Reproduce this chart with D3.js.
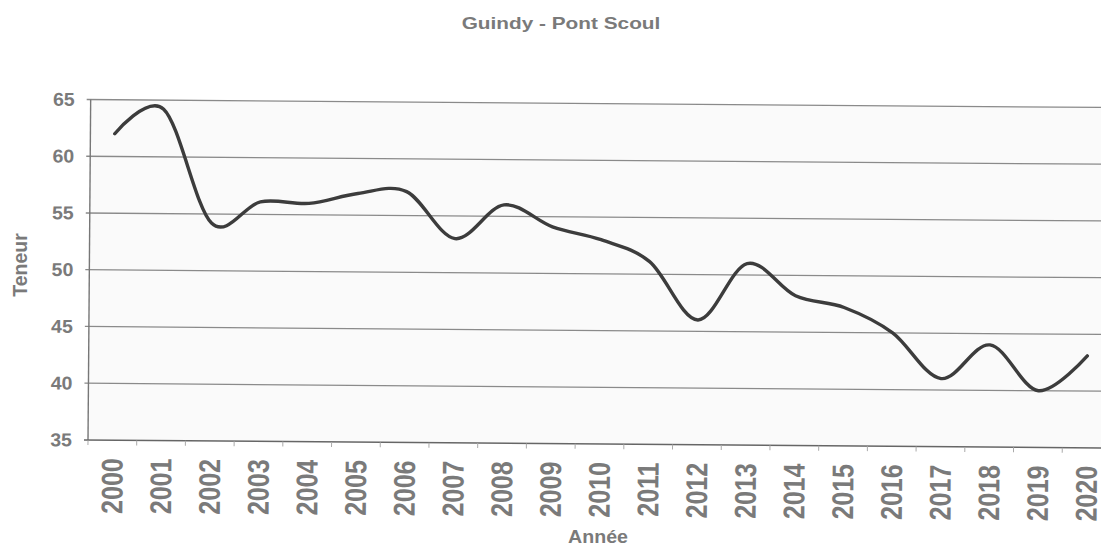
<!DOCTYPE html>
<html>
<head>
<meta charset="utf-8">
<script src="https://cdn.jsdelivr.net/npm/d3@7"></script>
<style>
  html, body { margin: 0; padding: 0; background: #ffffff; }
  svg { display: block; }
  text { font-family: "Liberation Sans", Arial, sans-serif; font-weight: bold; fill: #7a7a7a; }
</style>
</head>
<body>
<svg id="chart" width="1101" height="546"></svg>
<script>
const years = ["2000","2001","2002","2003","2004","2005","2006","2007","2008","2009","2010",
               "2011","2012","2013","2014","2015","2016","2017","2018","2019","2020"];
const teneur = [62.0, 64.2, 54.2, 56.1, 56.0, 56.9, 57.1, 53.0, 56.0, 54.1, 53.0,
                51.1, 46.0, 51.0, 48.2, 47.2, 45.0, 41.0, 44.0, 40.0, 43.1];
const yTicks = [35, 40, 45, 50, 55, 60, 65];
const chartTitle = "Guindy - Pont Scoul";
const xTitle = "Année";
const yTitle = "Teneur";

const svg = d3.select("#chart");

const pLeft = 88, pRight = 1111, pTop = 99.5, pBottom = 440;

const x = d3.scaleBand().domain(years).range([pLeft, pRight]).padding(0);
const y = d3.scaleLinear().domain([35, 65]).range([pBottom, pTop]);

// scanned page is slightly tilted
const g = svg.append("g").attr("transform", `rotate(0.45, ${pLeft}, ${pBottom})`);

g.append("rect")
  .attr("x", pLeft).attr("y", pTop)
  .attr("width", pRight - pLeft).attr("height", pBottom - pTop)
  .attr("fill", "#fafafa");

// gridlines
g.append("g")
  .selectAll("line")
  .data(yTicks.filter(d => d !== 35))
  .join("line")
  .attr("x1", pLeft - 4).attr("x2", pRight)
  .attr("y1", d => y(d)).attr("y2", d => y(d))
  .attr("stroke", "#8a8a8a").attr("stroke-width", 1.3);

// axes lines
g.append("line")
  .attr("x1", pLeft).attr("x2", pLeft)
  .attr("y1", pTop).attr("y2", pBottom + 1)
  .attr("stroke", "#777").attr("stroke-width", 1.4);
g.append("line")
  .attr("x1", pLeft - 4).attr("x2", pRight)
  .attr("y1", pBottom).attr("y2", pBottom)
  .attr("stroke", "#666").attr("stroke-width", 1.6);

// x ticks at category boundaries
const bounds = years.map(d => x(d)).concat([x(years[years.length - 1]) + x.bandwidth()]);
g.append("g")
  .selectAll("line")
  .data(bounds)
  .join("line")
  .attr("x1", d => d).attr("x2", d => d)
  .attr("y1", pBottom).attr("y2", pBottom + 5)
  .attr("stroke", "#aaa").attr("stroke-width", 1);

// y tick labels
g.append("g")
  .selectAll("text")
  .data(yTicks)
  .join("text")
  .attr("transform", d => `translate(72, ${y(d)}) scale(1.05, 1)`)
  .attr("dy", "0.35em")
  .attr("text-anchor", "end")
  .style("font-size", "18.6px")
  .text(d => d);

// x tick labels
g.append("g")
  .selectAll("text")
  .data(years)
  .join("text")
  .attr("transform", d => `translate(${x(d) + x.bandwidth() / 2}, 458) scale(1.2, 1) rotate(-90)`)
  .attr("dy", "0.35em")
  .attr("text-anchor", "end")
  .style("font-size", "25px")
  .text(d => d);

// data line
const line = d3.line()
  .x((d, i) => x(years[i]) + x.bandwidth() / 2)
  .y(d => y(d))
  .curve(d3.curveCardinal.tension(0));

g.append("path")
  .datum(teneur)
  .attr("d", line)
  .attr("fill", "none")
  .attr("stroke", "#3c3c3c")
  .attr("stroke-width", 3.4)
  .attr("stroke-linejoin", "round")
  .attr("stroke-linecap", "round");

// titles
svg.append("text")
  .attr("transform", "translate(561, 28.5) scale(1.3, 1)")
  .attr("text-anchor", "middle")
  .style("font-size", "16px")
  .text(chartTitle);

svg.append("text")
  .attr("transform", "translate(598, 543) scale(1.09, 1)")
  .attr("text-anchor", "middle")
  .style("font-size", "18px")
  .text(xTitle);

svg.append("text")
  .attr("transform", "translate(20, 265) rotate(-90)")
  .attr("dy", "0.35em")
  .attr("text-anchor", "middle")
  .style("font-size", "19.5px")
  .text(yTitle);
</script>
</body>
</html>
